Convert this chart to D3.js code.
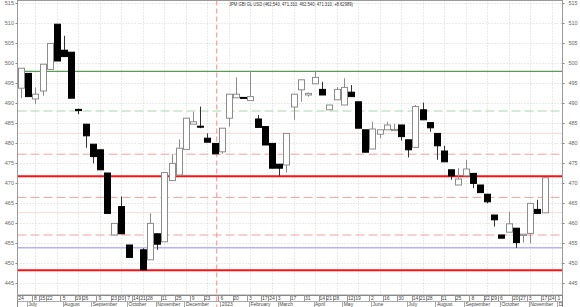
<!DOCTYPE html>
<html>
<head>
<meta charset="utf-8">
<script src="https://cdn.jsdelivr.net/npm/d3@7"></script>
<style>
  body { margin: 0; background: #fff; }
  svg { display: block; font-family: "Liberation Sans", Arial, sans-serif; }
</style>
</head>
<body>
<svg id="chart" width="580" height="307"></svg>
<script>
const title = "JPM GBI GL USD (462.540, 471.310, 462.540, 471.310, +8.62989)"

// weekly candles, one per Friday; the week of 2022-10-14 has no bar
const firstWeek = "2022-06-24"
const lastWeek = "2023-11-17"
const missingWeek = "2022-10-14"

const open = [493.7, 497.4, 491.0, 493.0, 498.4, 509.7, 503.2, 502.7, 488.4, 484.7, 479.7, 478.3, 472.5, 457.0, 464.1, 454.5,
  453.3, 450.8, 457.3, 455.3, 470.6, 472.0, 478.4, 484.7, 484.2, 481.2, 479.9, 477.8, 486.2, 491.3, 491.4, 490.6,
  486.0, 484.1, 479.9, 474.7, 474.5, 489.0, 493.3, 492.0, 494.8, 493.4, 488.3, 490.8, 489.5, 492.7, 490.3, 483.3,
  478.5, 482.2, 483.3, 483.1, 484.5, 480.8, 478.9, 488.3, 485.1, 482.4, 478.0, 473.3, 469.5, 471.8, 472.4, 469.5,
  467.2, 462.0, 457.0, 457.7, 458.7, 456.9, 457.4, 463.4, 462.54]
const high = [498.7, 497.4, 493.9, 499.7, 504.9, 509.7, 506.8, 502.7, 488.6, 484.7, 479.7, 478.3, 472.5, 459.9, 466.6, 454.5,
  453.7, 462.4, 457.4, 472.6, 477.2, 480.9, 486.2, 487.8, 489.1, 482.4, 479.9, 483.7, 492.2, 496.4, 491.4, 498.0,
  487.0, 484.1, 479.9, 474.7, 482.4, 492.2, 495.8, 492.6, 498.0, 495.3, 489.5, 494.0, 496.2, 494.5, 490.3, 483.3,
  485.3, 483.3, 485.3, 484.8, 484.5, 480.8, 489.5, 490.1, 485.1, 482.4, 479.3, 473.3, 473.7, 475.8, 472.4, 469.5,
  467.2, 462.0, 457.0, 462.8, 458.7, 457.2, 464.9, 465.8, 471.31]
const low = [491.2, 491.6, 489.7, 491.8, 498.4, 500.5, 501.6, 491.2, 487.2, 478.8, 474.9, 473.3, 462.4, 457.0, 457.3, 451.4,
  448.3, 450.8, 453.3, 455.3, 470.6, 472.0, 478.4, 484.7, 483.7, 480.2, 477.3, 477.3, 484.1, 491.3, 491.3, 490.6,
  483.9, 479.5, 473.7, 471.8, 472.6, 485.8, 490.3, 491.6, 494.8, 492.0, 488.3, 490.8, 489.5, 491.6, 483.7, 477.7,
  478.5, 481.2, 483.3, 483.1, 480.6, 476.4, 478.9, 485.8, 482.8, 475.8, 475.3, 470.8, 469.5, 471.8, 468.7, 467.6,
  464.9, 459.1, 456.2, 457.7, 453.8, 455.1, 454.9, 462.4, 462.54]
const close = [498.7, 491.6, 492.2, 499.7, 504.9, 500.5, 501.6, 491.2, 488.1, 481.8, 476.6, 473.3, 462.4, 459.9, 457.3, 451.4,
  448.3, 459.9, 454.7, 472.6, 474.9, 478.7, 486.2, 485.3, 484.0, 480.2, 477.3, 483.7, 492.2, 492.2, 491.3, 491.6,
  483.9, 479.5, 473.7, 473.7, 482.4, 492.2, 495.8, 492.4, 496.4, 492.0, 489.5, 493.4, 493.9, 491.6, 483.7, 477.7,
  483.5, 483.3, 484.5, 483.4, 481.6, 478.3, 489.1, 485.8, 483.8, 479.3, 475.3, 471.8, 471.0, 473.5, 469.9, 467.6,
  465.3, 460.8, 456.2, 459.8, 455.1, 457.2, 464.9, 462.4, 471.31]

// horizontal study lines
const levels = [497.9, 488.0, 482.4, 477.2, 471.7, 466.4, 462.6, 457.0, 453.8, 448.2]
const levelColors = ["#5a9a5a", "#a8d8a8", "#f6b4b4", "#f4a0a0", "#ff1010", "#f4a0a0", "#f6b4b4", "#f4a0a0", "#b4b4f0", "#ff1010"]
const levelDash = [null, "9,4", "1,1", "9,4", null, "9,4", "1,1", "9,4", null, null]
const levelWidth = [1.2, 1, 1, 1, 2, 1, 1, 1, 1.6, 2]

const yTicks = d3.range(445, 516, 5)
const dayTicks = ["2022-06-24", "2022-07-08", "2022-07-15", "2022-07-22", "2022-08-05", "2022-08-19", "2022-08-26",
  "2022-09-09", "2022-09-23", "2022-09-30", "2022-10-07", "2022-10-14", "2022-10-21", "2022-10-28", "2022-11-11",
  "2022-11-25", "2022-12-09", "2022-12-23", "2023-01-06", "2023-01-20", "2023-02-03", "2023-02-17", "2023-02-24",
  "2023-03-03", "2023-03-17", "2023-03-31", "2023-04-14", "2023-04-21", "2023-04-28", "2023-05-12", "2023-05-19",
  "2023-06-02", "2023-06-16", "2023-06-30", "2023-07-14", "2023-07-21", "2023-07-28", "2023-08-11", "2023-08-25",
  "2023-09-08", "2023-09-22", "2023-09-29", "2023-10-06", "2023-10-20", "2023-10-27", "2023-11-03", "2023-11-17",
  "2023-11-24", "2023-12-01"]
const yearMark = "2023-01-01"

const parse = d3.timeParse("%Y-%m-%d")

const weeks = d3.timeFriday.range(parse(firstWeek), d3.timeDay.offset(parse(lastWeek), 1))
  .filter(d => +d !== +parse(missingWeek))
const candles = weeks.map((d, i) => ({ date: d, o: open[i], h: high[i], l: low[i], c: close[i] }))

// ## CANVAS ##
const W = 580, H = 307
const plotL = 17.5, plotR = 562.5, plotT = 0.5, plotB = 295

const svg = d3.select("#chart")

const x = d3.scaleTime()
  .domain([parse(firstWeek), parse(lastWeek)])
  .range([21, 544.5])
const y = d3.scaleLinear()
  .domain([445, 515])
  .range([283, 3])

const defs = svg.append("defs")
defs.append("clipPath").attr("id", "plot")
  .append("rect").attr("x", plotL).attr("y", plotT).attr("width", plotR - plotL).attr("height", plotB - plotT)
defs.append("clipPath").attr("id", "axisclip")
  .append("rect").attr("x", plotL).attr("y", plotB).attr("width", plotR - plotL).attr("height", H - plotB)

// grid
const grid = svg.append("g").attr("clip-path", "url(#plot)")
grid.selectAll(".hg").data(yTicks).enter().append("line")
  .attr("x1", plotL).attr("x2", plotR)
  .attr("y1", d => Math.round(y(d)) + 0.5).attr("y2", d => Math.round(y(d)) + 0.5)
  .attr("stroke", "#d4d4d4").attr("stroke-dasharray", "1,2")
const gridDates = d3.timeFriday.range(parse("2022-07-08"), parse("2023-12-02"), 3)
grid.selectAll(".vg").data(gridDates).enter().append("line")
  .attr("x1", d => Math.round(x(d)) + 0.5).attr("x2", d => Math.round(x(d)) + 0.5)
  .attr("y1", plotT).attr("y2", plotB)
  .attr("stroke", "#d4d4d4").attr("stroke-dasharray", "1,2")

// year separator
svg.append("line")
  .attr("x1", x(parse(yearMark))).attr("x2", x(parse(yearMark)))
  .attr("y1", plotT).attr("y2", H)
  .attr("stroke", "#f7a8a8").attr("stroke-width", 1.4).attr("stroke-dasharray", "5,3")

// study lines
const lv = svg.append("g").attr("clip-path", "url(#plot)")
lv.selectAll("line").data(levels).enter().append("line")
  .attr("x1", plotL).attr("x2", plotR)
  .attr("y1", d => y(d)).attr("y2", d => y(d))
  .attr("stroke", (d, i) => levelColors[i])
  .attr("stroke-width", (d, i) => levelWidth[i])
  .attr("stroke-dasharray", (d, i) => levelDash[i])

// candles
const bw = 6
const cg = svg.append("g").attr("clip-path", "url(#plot)")
const cs = cg.selectAll("g").data(candles).enter().append("g")
cs.append("line")
  .attr("x1", d => Math.round(x(d.date)) + 0.5).attr("x2", d => Math.round(x(d.date)) + 0.5)
  .attr("y1", d => y(d.h)).attr("y2", d => y(d.l))
  .attr("stroke", d => d.c >= d.o ? "#8c8c8c" : "#333")
cs.append("rect")
  .attr("x", d => Math.round(x(d.date)) - bw / 2 + 0.5)
  .attr("width", bw)
  .attr("y", d => y(Math.max(d.o, d.c)))
  .attr("height", d => Math.max(1, Math.abs(y(d.o) - y(d.c))))
  .attr("fill", d => d.c >= d.o ? "#fff" : "#000")
  .attr("stroke", d => d.c >= d.o ? "#8c8c8c" : "#000")
  .attr("stroke-width", 1)

// frame
svg.append("rect").attr("x", plotL).attr("y", plotT).attr("width", plotR - plotL).attr("height", plotB - plotT)
  .attr("fill", "none").attr("stroke", "#9a9a9a")

// y axes
const yl = svg.append("g").attr("transform", `translate(${plotL},0)`)
  .call(d3.axisLeft(y).tickValues(yTicks).tickSize(2).tickPadding(1.5))
const yr = svg.append("g").attr("transform", `translate(${plotR},0)`)
  .call(d3.axisRight(y).tickValues(yTicks).tickSize(2).tickPadding(4))
;[yl, yr].forEach(g => {
  g.select(".domain").remove()
  g.selectAll("line").attr("stroke", "#888")
  g.selectAll("text").attr("font-size", 5.5).attr("fill", "#666")
})

// x axis rows
const ax = svg.append("g")
ax.append("line").attr("x1", plotL).attr("x2", plotR).attr("y1", plotB + 0.5).attr("y2", plotB + 0.5).attr("stroke", "#888")
ax.append("line").attr("x1", plotL).attr("x2", plotR).attr("y1", 301.5).attr("y2", 301.5).attr("stroke", "#aaa")
ax.append("line").attr("x1", plotL).attr("x2", plotL).attr("y1", plotB).attr("y2", H).attr("stroke", "#888")
ax.append("line").attr("x1", plotR).attr("x2", plotR).attr("y1", plotB).attr("y2", H).attr("stroke", "#888")

const axc = ax.append("g").attr("clip-path", "url(#axisclip)")
const days = dayTicks.map(parse)
axc.selectAll(".dsep").data(days).enter().append("line")
  .attr("x1", d => Math.round(x(d) - 3.6) + 0.5).attr("x2", d => Math.round(x(d) - 3.6) + 0.5)
  .attr("y1", plotB).attr("y2", 301.5).attr("stroke", "#999")
axc.selectAll(".dlab").data(days).enter().append("text")
  .attr("x", d => x(d)).attr("y", 300.3)
  .attr("text-anchor", "middle").attr("font-size", 5).attr("fill", "#444")
  .text(d3.timeFormat("%-d"))

const months = d3.timeMonth.range(parse("2022-07-01"), parse("2023-12-02"))
  .map(m => d3.timeFriday.ceil(m))
const monthName = d => d.getMonth() === 0 ? d3.timeFormat("%Y")(d) : d3.timeFormat("%B")(d)
axc.selectAll(".msep").data(months).enter().append("line")
  .attr("x1", d => Math.round(x(d) - 1.5) + 0.5).attr("x2", d => Math.round(x(d) - 1.5) + 0.5)
  .attr("y1", 301.5).attr("y2", H).attr("stroke", "#aaa")
axc.selectAll(".mlab").data(months).enter().append("text")
  .attr("x", d => x(d)).attr("y", 306.3)
  .attr("font-size", 5).attr("fill", "#444")
  .text(monthName)

// title
svg.append("text")
  .attr("x", 229).attr("y", 6)
  .attr("font-size", 5.5).attr("fill", "#333")
  .attr("textLength", 124).attr("lengthAdjust", "spacingAndGlyphs")
  .text(title)
</script>
</body>
</html>
